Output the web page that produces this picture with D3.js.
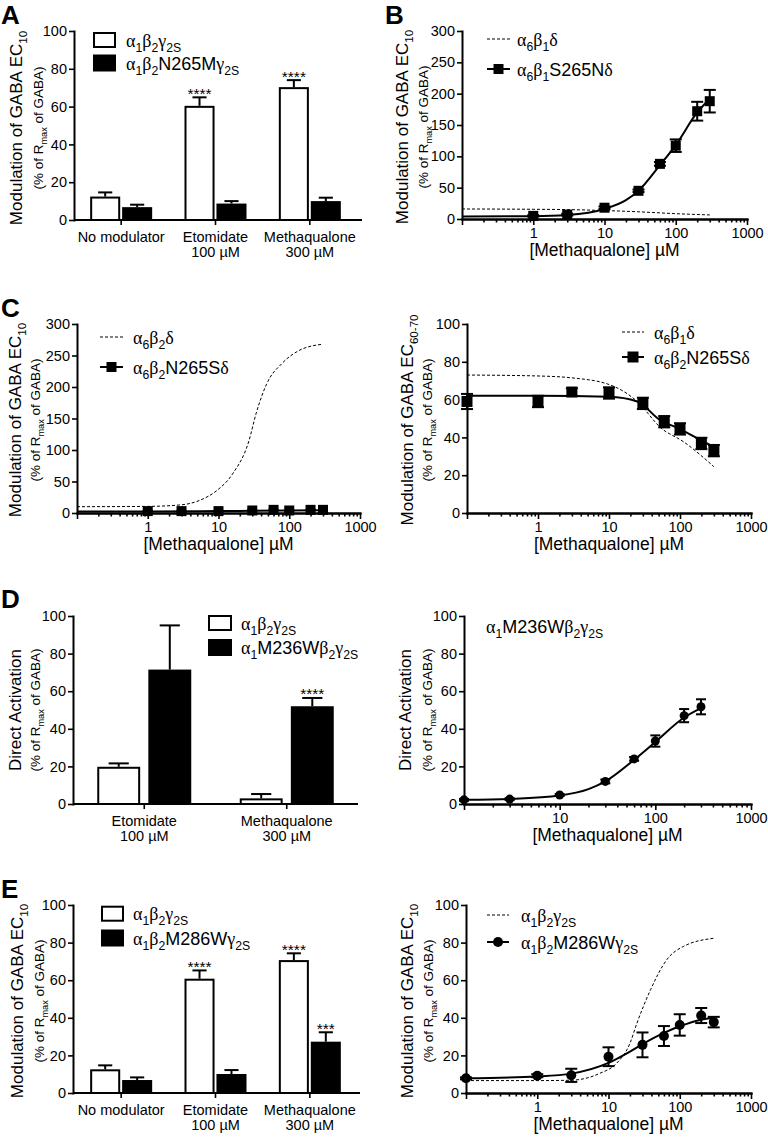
<!DOCTYPE html>
<html><head><meta charset="utf-8">
<script src="https://cdn.jsdelivr.net/npm/d3@7"></script>
<style>
body{margin:0;background:#fff}
svg{display:block}
text{font-family:'Liberation Sans',Arial,Helvetica,sans-serif;fill:#000}
</style>
</head><body>
<svg id="fig" width="768" height="1137"></svg>
<script>
// ================= DATA =================
// Bar-chart categories
const catsBar3 = [["No modulator"], ["Etomidate", "100 µM"], ["Methaqualone", "300 µM"]];
const catsBar2 = [["Etomidate", "100 µM"], ["Methaqualone", "300 µM"]];
const yTicks100 = [0, 20, 40, 60, 80, 100];
const yTicks300 = [0, 50, 100, 150, 200, 250, 300];

// Panel A
const aWtMean = [12.4, 60.4, 70.3];
const aWtErr = [2.2, 4.5, 3.7];
const aWtStars = ["", "****", "****"];
const aMutMean = [6.8, 8.7, 10.0];
const aMutErr = [1.3, 1.3, 1.8];
const aMutStars = ["", "", ""];

// Panel B
const bConc = [1, 3, 10, 30, 60, 100, 200, 300];
const bMean = [5, 7, 18, 45, 88, 117, 172, 188];
const bErr = [1, 1.5, 2, 2, 3, 10, 15, 18];
const bFitX = [0.1, 1, 3, 10, 20, 30, 60, 100, 200, 300];
const bFitY = [4, 4.5, 6.4, 16, 30, 45, 86, 118, 170, 192];
const bRefX = [0.1, 1, 3, 10, 30, 100, 300];
const bRefY = [16, 15.5, 15, 13.5, 11.5, 8.5, 6.5];

// Panel C (left)
const cConc = [1, 3, 10, 30, 60, 100, 200, 300];
const cMean = [3, 3, 3, 4, 5, 4, 5, 5];
const cErr = [0.5, 0.5, 0.5, 0.5, 0.5, 0.5, 0.5, 0.5];
const cFitX = [0.1, 1, 10, 30, 100, 300];
const cFitY = [2.5, 2.5, 3, 3.5, 4, 4.5];
const cRefX = [0.1, 1, 3, 5.4, 9.3, 15.8, 27, 34, 48, 80, 138, 300];
const cRefY = [10, 10.5, 13, 20, 35, 62, 115, 158, 205, 238, 258, 268];

// Panel C (right)
const c2Conc = [0.1, 1, 3, 10, 30, 60, 100, 200, 300];
const c2Mean = [59, 59, 64, 63.5, 58, 48.3, 44.5, 36.8, 33];
const c2Err = [4, 3, 2, 3, 3, 3, 3, 3, 3];
const c2FitX = [0.1, 1, 10, 25, 53, 92, 195, 300];
const c2FitY = [62, 62, 61.5, 59, 49, 45, 38.6, 35];
const c2RefX = [0.1, 1, 3, 10, 25, 54, 113, 300];
const c2RefY = [73, 72.5, 71.5, 68, 59, 45, 37.6, 24.5];

// Panel D (left)
const dWtMean = [19.8, 3.0];
const dWtErr = [1.8, 2.3];
const dWtStars = ["", ""];
const dMutMean = [71.5, 52];
const dMutErr = [23.5, 4.4];
const dMutStars = ["", "****"];

// Panel D (right)
const d2Conc = [1, 3, 10, 30, 60, 100, 200, 300];
const d2Mean = [2.2, 2.6, 4.8, 12, 24, 33.5, 47, 51.7];
const d2Err = [0.5, 0.5, 0.5, 1, 1, 3, 3.5, 4];
const d2FitX = [1, 3, 10, 20, 30, 60, 100, 200, 300];
const d2FitY = [2.2, 2.7, 4.5, 7.9, 12, 23.5, 33, 46, 51];

// Panel E (left)
const eWtMean = [12.6, 60.8, 70.7];
const eWtErr = [2.1, 4.4, 3.6];
const eWtStars = ["", "****", "****"];
const eMutMean = [6.9, 10.1, 27.3];
const eMutErr = [1.4, 2.1, 5.0];
const eMutStars = ["", "", "***"];

// Panel E (right)
const e2Conc = [0.1, 1, 3, 10, 30, 60, 100, 200, 300];
const e2Mean = [7.8, 9.2, 9.4, 19.3, 25.6, 30.3, 36.2, 41.2, 37.7];
const e2Err = [0.5, 0.8, 3.5, 5, 6.6, 5.3, 5.7, 4, 2.8];
const e2FitX = [0.1, 1, 3, 10, 20, 30, 60, 100, 200, 300];
const e2FitY = [7.8, 8.8, 10.3, 16, 22, 26, 32, 35.5, 39, 40];
const e2RefX = [0.1, 1, 3, 7.6, 13, 20, 25, 39, 66, 113, 300];
const e2RefY = [6.6, 6.6, 6.8, 10.5, 15.8, 26.4, 37, 55, 71, 78, 82.3];

// ================= DRAWING =================
const svg = d3.select("#fig");
svg.append("rect").attr("width", 768).attr("height", 1137).attr("fill", "#fff");
const SERIF = "'Liberation Serif','Times New Roman',serif";
const TICK_FS = 14.5;
const LEG_FS = 18;

function richText(parent, str, fs, attrs) {
  const t = parent.append("text").attr("font-size", fs);
  Object.entries(attrs || {}).forEach(([k, v]) => t.attr(k, v));
  const segs = [];
  let i = 0;
  while (i < str.length) {
    let sub = false, s;
    if (str[i] === "_") {
      sub = true;
      if (str[i + 1] === "{") { const j = str.indexOf("}", i); s = str.slice(i + 2, j); i = j + 1; }
      else { s = str[i + 1]; i += 2; }
    } else { s = str[i]; i++; }
    for (const ch of s) {
      const greek = /[\u0370-\u03FF]/.test(ch);
      const last = segs[segs.length - 1];
      if (last && last.sub === sub && last.greek === greek) last.t += ch;
      else segs.push({ t: ch, sub, greek });
    }
  }
  let cur = 0;
  segs.forEach(sg => {
    const target = sg.sub ? fs * 0.28 : 0;
    const ts = t.append("tspan").text(sg.t).attr("dy", target - cur);
    cur = target;
    if (sg.sub) ts.attr("font-size", fs * 0.68);
    if (sg.greek) ts.attr("font-family", SERIF);
  });
  return t;
}

function panelLetter(letter, x, y) {
  svg.append("text").attr("x", x).attr("y", y).attr("font-size", 26).attr("font-weight", "bold").text(letter);
}

function yTitle(cx, subCx, yc, main) {
  richText(svg, main, 17, { transform: `translate(${cx + 6},${yc}) rotate(-90)`, "text-anchor": "middle" });
  richText(svg, "(% of R_{max} of GABA)", 13.5, { transform: `translate(${subCx + 5},${yc}) rotate(-90)`, "text-anchor": "middle" });
}

function styleAxis(g) {
  g.attr("font-size", TICK_FS).attr("font-family", "'Liberation Sans',Arial,sans-serif");
  g.select(".domain").attr("stroke-width", 2).attr("stroke-linecap", "square");
  g.selectAll(".tick line").attr("stroke-width", 1.6);
  g.selectAll(".tick text").attr("fill", "#000");
}

function yAxis(x0, y, ticks) {
  const g = svg.append("g").attr("transform", `translate(${x0},0)`)
    .call(d3.axisLeft(y).tickValues(ticks).tickSize(5).tickSizeOuter(0).tickPadding(2));
  styleAxis(g);
}

function barPanel(p) {
  const y = d3.scaleLinear().domain([0, 100]).range([p.y0, p.yTop]);
  const xb = d3.scaleBand().domain(d3.range(p.cats.length)).range(p.band);
  const xs = d3.scaleBand().domain([0, 1]).range(p.sub).paddingInner(p.subPad);
  const series = [
    { mean: p.wtMean, err: p.wtErr, stars: p.wtStars, white: true },
    { mean: p.mutMean, err: p.mutErr, stars: p.mutStars, white: false }];
  const g = svg.append("g");
  series.forEach((s, si) => {
    s.mean.forEach((m, i) => {
      const c = xb(i) + xb.bandwidth() / 2;
      const x0 = c + xs(si), w = xs.bandwidth(), xm = x0 + w / 2;
      const yt = y(m + s.err[i]);
      const capW = w * 0.47;
      g.append("line").attr("x1", xm).attr("x2", xm).attr("y1", y(m)).attr("y2", yt).attr("stroke", "#000").attr("stroke-width", 2);
      g.append("line").attr("x1", xm - capW / 2).attr("x2", xm + capW / 2).attr("y1", yt).attr("y2", yt).attr("stroke", "#000").attr("stroke-width", 2);
      if (s.white) {
        g.append("rect").attr("x", x0 + 1).attr("y", y(m) + 1).attr("width", w - 2).attr("height", p.y0 - y(m) - 1)
          .attr("fill", "#fff").attr("stroke", "#000").attr("stroke-width", 2);
      } else {
        g.append("rect").attr("x", x0).attr("y", y(m)).attr("width", w).attr("height", p.y0 - y(m)).attr("fill", "#000");
      }
      if (s.stars[i]) {
        g.append("text").attr("x", xm).attr("y", yt + 1.5).attr("text-anchor", "middle").attr("font-size", 15.5).text(s.stars[i]);
      }
    });
  });
  // x axis
  svg.append("line").attr("x1", p.ax0).attr("x2", p.ax1).attr("y1", p.y0).attr("y2", p.y0).attr("stroke", "#000").attr("stroke-width", 2);
  p.cats.forEach((lines, i) => {
    const c = xb(i) + xb.bandwidth() / 2;
    svg.append("line").attr("x1", c).attr("x2", c).attr("y1", p.y0).attr("y2", p.y0 + 5).attr("stroke", "#000").attr("stroke-width", 1.6);
    lines.forEach((ln, k) => {
      svg.append("text").attr("x", c).attr("y", p.y0 + 22 + k * 15).attr("text-anchor", "middle").attr("font-size", TICK_FS).text(ln);
    });
  });
  yAxis(p.ax0, y, yTicks100);
  // legend
  p.legend.forEach((lg, k) => {
    const cy = p.legY[k];
    if (k === 0) {
      svg.append("rect").attr("x", p.legX + 1).attr("y", cy - 7).attr("width", p.legW - 2).attr("height", 14)
        .attr("fill", "#fff").attr("stroke", "#000").attr("stroke-width", 2);
    } else {
      svg.append("rect").attr("x", p.legX).attr("y", cy - 8.5).attr("width", p.legW).attr("height", 17).attr("fill", "#000");
    }
    richText(svg, lg, LEG_FS, { x: p.legTx, y: cy + 6.5 });
  });
}

function curvePanel(p) {
  const x = d3.scaleLog().domain(p.xDom).range(p.xR);
  const y = d3.scaleLinear().domain([0, p.yMax]).range([p.y0, p.yTop]);
  const line = d3.line().x(d => x(d[0])).y(d => y(d[1])).curve(d3.curveMonotoneX);
  const g = svg.append("g");
  if (p.refX) {
    g.append("path").datum(d3.zip(p.refX, p.refY)).attr("d", line).attr("fill", "none")
      .attr("stroke", "#000").attr("stroke-width", 1).attr("stroke-dasharray", "3,2");
  }
  g.append("path").datum(d3.zip(p.fitX, p.fitY)).attr("d", line).attr("fill", "none")
    .attr("stroke", "#000").attr("stroke-width", 2);
  p.conc.forEach((c, i) => {
    const xc = x(c), m = p.mean[i], e = p.err[i];
    const yhi = y(m + e), ylo = y(m - e);
    g.append("line").attr("x1", xc).attr("x2", xc).attr("y1", ylo).attr("y2", yhi).attr("stroke", "#000").attr("stroke-width", 2);
    [yhi, ylo].forEach(yy => g.append("line").attr("x1", xc - p.capW / 2).attr("x2", xc + p.capW / 2)
      .attr("y1", yy).attr("y2", yy).attr("stroke", "#000").attr("stroke-width", 2));
  });
  p.conc.forEach((c, i) => {
    const xc = x(c), yc = y(p.mean[i]);
    if (p.marker === "square") g.append("rect").attr("x", xc - p.ms / 2).attr("y", yc - p.ms / 2).attr("width", p.ms).attr("height", p.ms).attr("fill", "#000");
    else g.append("circle").attr("cx", xc).attr("cy", yc).attr("r", p.ms / 2).attr("fill", "#000");
  });
  // axes
  const majors = x.ticks().filter(v => Math.abs(Math.log10(v) - Math.round(Math.log10(v))) < 1e-6);
  const minors = x.ticks().filter(v => Math.abs(Math.log10(v) - Math.round(Math.log10(v))) >= 1e-6);
  const gMin = svg.append("g").attr("transform", `translate(0,${p.y0})`)
    .call(d3.axisBottom(x).tickValues(minors).tickSize(3.5).tickSizeOuter(0).tickFormat(""));
  styleAxis(gMin);
  const gMaj = svg.append("g").attr("transform", `translate(0,${p.y0})`)
    .call(d3.axisBottom(x).tickValues(majors).tickSize(6).tickSizeOuter(0).tickPadding(3)
      .tickFormat(d => p.xLabels.some(l => Math.abs(l - d) < 1e-9) ? String(Math.round(d)) : ""));
  styleAxis(gMaj);
  yAxis(p.xR[0], y, p.yTicks);
  svg.append("text").attr("x", (p.xR[0] + p.xR[1]) / 2).attr("y", p.y0 + 37).attr("text-anchor", "middle")
    .attr("font-size", 17.5).text("[Methaqualone] µM");
  // legend
  if (p.legend) {
    p.legend.forEach((lg, k) => {
      const cy = p.legY[k];
      if (k === 0 && p.refX) {
        svg.append("line").attr("x1", p.legL[0]).attr("x2", p.legL[1]).attr("y1", cy).attr("y2", cy)
          .attr("stroke", "#000").attr("stroke-width", 1).attr("stroke-dasharray", "3,2");
      } else {
        svg.append("line").attr("x1", p.legL[0]).attr("x2", p.legL[1]).attr("y1", cy).attr("y2", cy)
          .attr("stroke", "#000").attr("stroke-width", 2);
        const mx = (p.legL[0] + p.legL[1]) / 2;
        if (p.marker === "square") svg.append("rect").attr("x", mx - p.ms / 2).attr("y", cy - p.ms / 2).attr("width", p.ms).attr("height", p.ms).attr("fill", "#000");
        else svg.append("circle").attr("cx", mx).attr("cy", cy).attr("r", p.ms / 2).attr("fill", "#000");
      }
      richText(svg, lg, LEG_FS, { x: p.legTx, y: cy + 6.5 });
    });
  }
}

// ---- Panel A ----
panelLetter("A", 1, 24);
barPanel({ cats: catsBar3, y0: 220, yTop: 31, band: [74, 357], sub: [-31, 31], subPad: 0.06, ax0: 74, ax1: 362,
  wtMean: aWtMean, wtErr: aWtErr, wtStars: aWtStars, mutMean: aMutMean, mutErr: aMutErr, mutStars: aMutStars,
  legend: ["α_1β_2γ_{2S}", "α_1β_2N265Mγ_{2S}"], legX: 93, legW: 23, legY: [40, 63], legTx: 126 });
yTitle(16, 38, 128, "Modulation of GABA EC_{10}");

// ---- Panel B ----
panelLetter("B", 385, 24);
curvePanel({ xDom: [0.1, 1000], xR: [462, 747], y0: 219, yTop: 31, yMax: 300, yTicks: yTicks300, xLabels: [1, 10, 100, 1000],
  conc: bConc, mean: bMean, err: bErr, fitX: bFitX, fitY: bFitY, refX: bRefX, refY: bRefY,
  marker: "square", ms: 10, capW: 12,
  legend: ["α_6β_1δ", "α_6β_1S265Nδ"], legL: [487, 510], legY: [39, 69], legTx: 517 });
yTitle(402, 423, 127, "Modulation of GABA EC_{10}");

// ---- Panel C left ----
panelLetter("C", 1, 317);
curvePanel({ xDom: [0.1, 1000], xR: [77, 360], y0: 513, yTop: 324, yMax: 300, yTicks: yTicks300, xLabels: [1, 10, 100, 1000],
  conc: cConc, mean: cMean, err: cErr, fitX: cFitX, fitY: cFitY, refX: cRefX, refY: cRefY,
  marker: "square", ms: 10, capW: 10,
  legend: ["α_6β_2δ", "α_6β_2N265Sδ"], legL: [100, 123], legY: [337, 367], legTx: 133 });
yTitle(15, 35, 420, "Modulation of GABA EC_{10}");

// ---- Panel C right ----
curvePanel({ xDom: [0.1, 1000], xR: [467, 751], y0: 513, yTop: 324, yMax: 100, yTicks: yTicks100, xLabels: [1, 10, 100, 1000],
  conc: c2Conc, mean: c2Mean, err: c2Err, fitX: c2FitX, fitY: c2FitY, refX: c2RefX, refY: c2RefY,
  marker: "square", ms: 11, capW: 12,
  legend: ["α_6β_1δ", "α_6β_2N265Sδ"], legL: [622, 644], legY: [332, 357], legTx: 654 });
yTitle(407, 427, 420, "Modulation of GABA EC_{60-70}");

// ---- Panel D left ----
panelLetter("D", 1, 608);
barPanel({ cats: catsBar2, y0: 804, yTop: 616, band: [73, 358], sub: [-47, 47], subPad: 0.16, ax0: 73, ax1: 358,
  wtMean: dWtMean, wtErr: dWtErr, wtStars: dWtStars, mutMean: dMutMean, mutErr: dMutErr, mutStars: dMutStars,
  legend: ["α_1β_2γ_{2S}", "α_1M236Wβ_2γ_{2S}"], legX: 208, legW: 24, legY: [623, 647.5], legTx: 241 });
yTitle(15, 35, 710, "Direct Activation");

// ---- Panel D right ----
curvePanel({ xDom: [1, 1000], xR: [464, 751], y0: 804, yTop: 616, yMax: 100, yTicks: yTicks100, xLabels: [10, 100, 1000],
  conc: d2Conc, mean: d2Mean, err: d2Err, fitX: d2FitX, fitY: d2FitY,
  marker: "circle", ms: 9, capW: 10 });
richText(svg, "α_1M236Wβ_2γ_{2S}", LEG_FS, { x: 486, y: 633 });
yTitle(405, 427, 710, "Direct Activation");

// ---- Panel E left ----
panelLetter("E", 1, 898);
barPanel({ cats: catsBar3, y0: 1093, yTop: 905, band: [74, 357], sub: [-31, 31], subPad: 0.06, ax0: 73, ax1: 360,
  wtMean: eWtMean, wtErr: eWtErr, wtStars: eWtStars, mutMean: eMutMean, mutErr: eMutErr, mutStars: eMutStars,
  legend: ["α_1β_2γ_{2S}", "α_1β_2M286Wγ_{2S}"], legX: 101, legW: 23, legY: [913.7, 938], legTx: 133 });
yTitle(17, 39, 1001, "Modulation of GABA EC_{10}");

// ---- Panel E right ----
curvePanel({ xDom: [0.1, 1000], xR: [466, 751], y0: 1093, yTop: 905, yMax: 100, yTicks: yTicks100, xLabels: [1, 10, 100, 1000],
  conc: e2Conc, mean: e2Mean, err: e2Err, fitX: e2FitX, fitY: e2FitY, refX: e2RefX, refY: e2RefY,
  marker: "circle", ms: 10, capW: 12,
  legend: ["α_1β_2γ_{2S}", "α_1β_2M286Wγ_{2S}"], legL: [487, 509], legY: [915, 942], legTx: 521 });
yTitle(407, 428, 1001, "Modulation of GABA EC_{10}");
</script>
</body></html>
